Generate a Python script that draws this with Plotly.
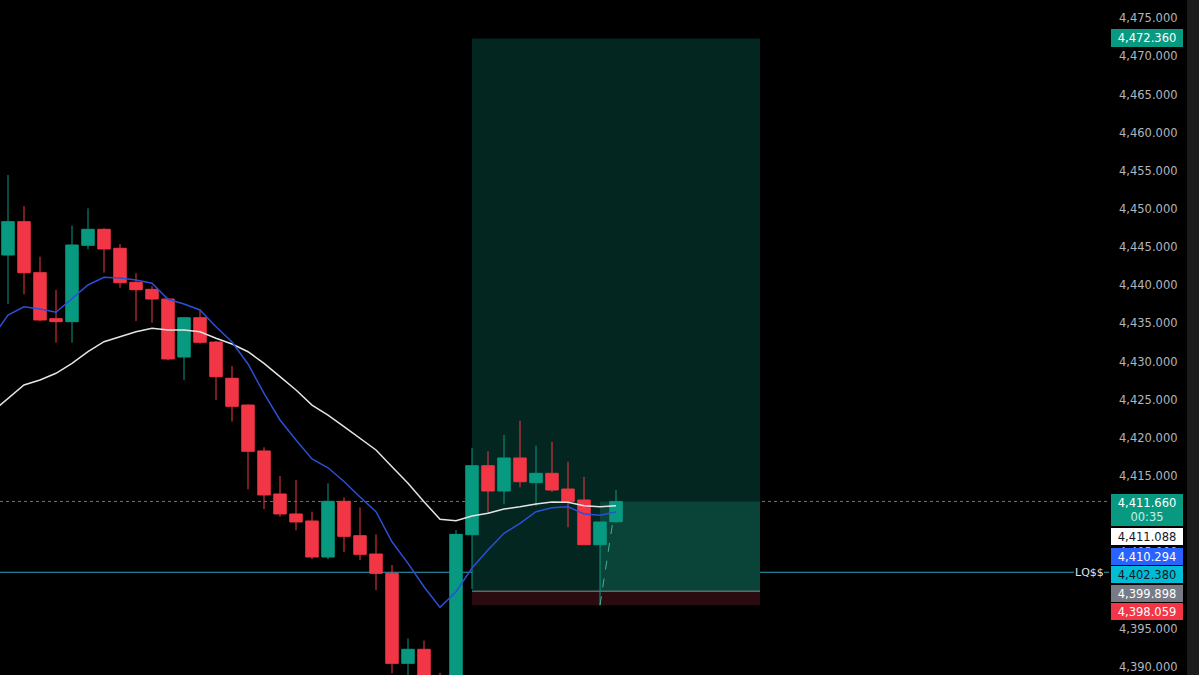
import plotly.graph_objects as go

# ---------------- data ----------------
bar_index = list(range(39))
opens = [4443.97, 4448.34, 4441.65, 4435.62, 4435.23, 4445.24, 4447.34, 4444.85, 4440.39, 4439.47,
         4438.20, 4430.60, 4435.75, 4432.56, 4427.81, 4424.30, 4418.28, 4412.64, 4410.02, 4409.10,
         4404.38, 4411.68, 4407.17, 4404.77, 4402.24, 4390.44, 4392.28, 4386.50, 4385.20, 4407.30,
         4416.35, 4413.03, 4417.36, 4414.12, 4415.35, 4413.29, 4411.85, 4405.99, 4409.01]
highs = [4454.46, 4450.39, 4443.75, 4439.38, 4447.81, 4450.09, 4447.47, 4445.41, 4441.57, 4439.91,
         4438.27, 4435.84, 4436.85, 4432.70, 4429.42, 4424.40, 4418.76, 4415.00, 4414.47, 4410.32,
         4414.04, 4412.20, 4410.89, 4407.35, 4403.33, 4393.72, 4393.41, 4389.21, 4407.92, 4418.71,
         4418.24, 4420.37, 4422.25, 4418.97, 4419.49, 4416.87, 4414.90, 4408.97, 4413.16]
lows = [4437.55, 4438.82, 4435.32, 4432.47, 4432.47, 4444.72, 4441.65, 4439.68, 4435.32, 4435.09,
        4430.17, 4427.58, 4432.34, 4424.96, 4422.12, 4413.25, 4410.67, 4409.66, 4407.88, 4404.08,
        4404.08, 4405.03, 4403.99, 4400.05, 4389.13, 4387.50, 4385.00, 4382.00, 4383.00, 4400.18,
        4410.11, 4411.29, 4413.52, 4411.06, 4412.90, 4408.27, 4405.95, 4398.06, 4408.84]
closes = [4448.34, 4441.65, 4435.45, 4435.23, 4445.28, 4447.34, 4444.76, 4440.34, 4439.42, 4438.20,
          4430.34, 4435.75, 4432.53, 4428.02, 4424.13, 4418.24, 4412.51, 4410.02, 4408.97, 4404.38,
          4411.68, 4407.09, 4404.73, 4402.24, 4390.44, 4392.28, 4386.50, 4385.00, 4407.35, 4416.35,
          4413.03, 4417.36, 4414.25, 4415.35, 4413.16, 4411.68, 4405.99, 4408.97, 4411.66]

ma_index = list(range(-1, 39))
ma_fast = [4433.09, 4436.10, 4437.19, 4436.89, 4436.46, 4438.29, 4440.04, 4441.05, 4440.95, 4440.69,
           4440.26, 4438.16, 4437.55, 4436.76, 4434.57, 4432.56, 4429.68, 4425.84, 4422.34, 4419.72,
           4417.23, 4416.08, 4414.28, 4412.24, 4410.32, 4406.38, 4403.55, 4400.48, 4397.78, 4399.83,
           4402.94, 4405.30, 4407.49, 4408.80, 4410.32, 4410.84, 4410.97, 4410.02, 4409.85, 4410.29]
ma_slow = [4423.39, 4425.18, 4426.93, 4427.58, 4428.46, 4429.77, 4431.29, 4432.60, 4433.26, 4433.91,
           4434.36, 4434.14, 4434.14, 4433.91, 4433.05, 4432.30, 4431.29, 4429.77, 4428.02, 4426.27,
           4424.30, 4422.99, 4421.46, 4419.94, 4418.41, 4416.22, 4414.04, 4411.63, 4409.32, 4409.14,
           4409.75, 4410.11, 4410.67, 4410.97, 4411.33, 4411.59, 4411.55, 4411.10, 4410.97, 4411.09]

tick_values = [4390, 4395, 4400, 4405, 4410, 4415, 4420, 4425, 4430, 4435,
               4440, 4445, 4450, 4455, 4460, 4465, 4470, 4475]

target_price = 4472.360
entry_price = 4399.898
stop_price = 4398.059
liq_price = 4402.380
last_price = 4411.660
fast_last = 4410.294
slow_last = 4411.088
countdown = "00:35"
liq_label = "LQ$$"
position_start = 29
position_end = 47
fill_bar = 37

# ---------------- figure ----------------
W, H = 1199, 675
PLOT_R = 1109  # right edge of plot area in pixels

fig = go.Figure()

fig.add_trace(go.Candlestick(
    x=bar_index, open=opens, high=highs, low=lows, close=closes,
    increasing=dict(line=dict(color="#089981", width=1), fillcolor="#089981"),
    decreasing=dict(line=dict(color="#f23645", width=1), fillcolor="#f23645"),
    whiskerwidth=0, hoverinfo="skip", showlegend=False,
))
fig.add_trace(go.Scatter(x=ma_index, y=ma_slow, mode="lines",
                         line=dict(color="#e4e4e4", width=1.5), hoverinfo="skip", showlegend=False))
fig.add_trace(go.Scatter(x=ma_index, y=ma_fast, mode="lines",
                         line=dict(color="#2b4fd6", width=1.5), hoverinfo="skip", showlegend=False))

shapes = []
# position tool: profit zone
shapes.append(dict(type="rect", xref="x", yref="y", x0=position_start, x1=position_end,
                   y0=entry_price, y1=target_price, fillcolor="#032620", line=dict(width=0), layer="below"))
# realised part
shapes.append(dict(type="rect", xref="x", yref="y", x0=fill_bar, x1=position_end,
                   y0=entry_price, y1=last_price, fillcolor="#0a4337", line=dict(width=0), layer="below"))
# stop zone
shapes.append(dict(type="rect", xref="x", yref="y", x0=position_start, x1=position_end,
                   y0=stop_price, y1=entry_price, fillcolor="#2a0b0f", line=dict(width=0), layer="below"))
# entry line
shapes.append(dict(type="line", xref="x", yref="y", x0=position_start, x1=position_end,
                   y0=entry_price, y1=entry_price, line=dict(color="#8a8d96", width=1), layer="below"))
# last price dotted line
shapes.append(dict(type="line", xref="paper", yref="y", x0=0, x1=1, y0=last_price, y1=last_price,
                   line=dict(color="#2f8f7e", width=1, dash="dot"), layer="below"))
# liquidity line (with a gap for its label)
shapes.append(dict(type="line", xref="paper", yref="y", x0=0, x1=1074 / PLOT_R, y0=liq_price, y1=liq_price,
                   line=dict(color="#2aa3ba", width=1), layer="below"))
shapes.append(dict(type="line", xref="paper", yref="y", x0=1104 / PLOT_R, x1=1, y0=liq_price, y1=liq_price,
                   line=dict(color="#2aa3ba", width=1), layer="below"))
# dashed path from fill to current bar
shapes.append(dict(type="line", xref="x", yref="y", x0=fill_bar, x1=bar_index[-1] - 0.2,
                   y0=lows[fill_bar], y1=opens[-1], line=dict(color="#3fb39c", width=1, dash="dash")))
# right grey strip
shapes.append(dict(type="rect", xref="paper", yref="paper", x0=1187 / PLOT_R, x1=1.1,
                   y0=0, y1=1, fillcolor="#1b1b1b", line=dict(width=0)))

annotations = []
annotations.append(dict(xref="paper", yref="y", x=1089 / PLOT_R, y=liq_price, text=liq_label,
                        showarrow=False, font=dict(family="DejaVu Sans", size=11, color="#e0e3eb"),
                        xanchor="center", yanchor="middle"))

# price labels on the axis: (text, background, text colour, centre pixel y, box height)
labels = [
    (f"{target_price:,.3f}", "#089981", "#ffffff", 38.5, 18),
    (f"{last_price:,.3f}<br><span style='color:#c8efe6'>{countdown}</span>", "#089981", "#ffffff", 509.7, 32),
    (f"{slow_last:,.3f}", "#ffffff", "#131722", 536.2, 17),
    (f"{fast_last:,.3f}", "#2962ff", "#ffffff", 556.2, 17),
    (f"{liq_price:,.3f}", "#00bcd4", "#131722", 574.5, 17),
    (f"{entry_price:,.3f}", "#787b86", "#ffffff", 593.0, 17),
    (f"{stop_price:,.3f}", "#f23645", "#ffffff", 611.7, 17),
]
for text, bg, fg, py, bh in labels:
    annotations.append(dict(
        xref="paper", yref="paper", x=1111 / PLOT_R, y=1 - py / H, xanchor="left", yanchor="middle",
        text=text, showarrow=False, bgcolor=bg, width=68, height=bh - 4, borderpad=2, borderwidth=0,
        align="center", valign="middle",
        font=dict(family="DejaVu Sans", size=11.5, color=fg)))

fig.update_layout(
    width=W, height=H,
    margin=dict(l=0, r=W - PLOT_R, t=0, b=0),
    paper_bgcolor="#000000", plot_bgcolor="#000000",
    showlegend=False, boxgap=0.22, boxgroupgap=0,
    shapes=shapes, annotations=annotations,
    xaxis=dict(range=[-0.5, (PLOT_R - 8) / 16], visible=False, showgrid=False, zeroline=False,
               rangeslider=dict(visible=False)),
    yaxis=dict(side="right", range=[4388.91, 4477.40], tickvals=tick_values,
               ticktext=[f"{v:,.3f}" for v in tick_values],
               showgrid=False, zeroline=False, showline=False, ticks="",
               ticklabelstandoff=9,
               tickfont=dict(family="DejaVu Sans", size=11.5, color="#b2b5be")),
)

fig.write_html(
    "out.html",
    config={"displayModeBar": False},
    post_script="document.body.style.margin='0';document.body.style.background='#000';"
                "document.body.style.overflow='hidden';",
)
